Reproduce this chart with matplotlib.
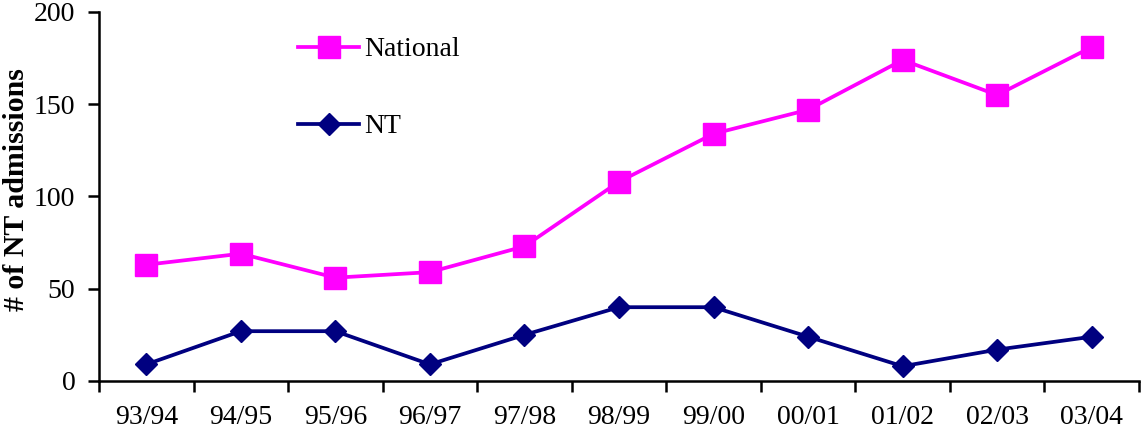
import numpy as np
import matplotlib
matplotlib.use('Agg')
import matplotlib.pyplot as plt
from matplotlib.ticker import FixedLocator, NullFormatter

# data
seasons = ['93/94', '94/95', '95/96', '96/97', '97/98', '98/99',
           '99/00', '00/01', '01/02', '02/03', '03/04']
national = [63, 69, 56, 59, 73, 108, 134, 147, 174, 155, 181]
nt = [9, 27, 27, 9, 25, 40, 40, 24, 8, 17, 24]

national_color = '#FF00FF'
nt_color = '#000080'
font = 'Liberation Serif'
fontsize = 20

plt.rcParams['font.family'] = font
plt.rcParams['axes.linewidth'] = 1.8

fig = plt.figure(figsize=(11.42, 4.45), dpi=100)
ax = fig.add_axes([99 / 1142, 1 - 381 / 445, 1040 / 1142, 369 / 445])

x = np.arange(len(seasons))
ax.plot(x, national, color=national_color, linewidth=2.7, marker='s',
        markersize=15.5, label='National')
ax.plot(x, nt, color=nt_color, linewidth=2.7, marker='D',
        markersize=11.5, label='NT')

ax.set_xlim(-0.5, len(seasons) - 0.5)
ax.set_ylim(0, 200)
ax.set_yticks([0, 50, 100, 150, 200])

# ticks at category boundaries, labels at centres
ax.xaxis.set_major_locator(FixedLocator(np.arange(-0.5, len(seasons), 1.0)))
ax.xaxis.set_major_formatter(NullFormatter())
ax.xaxis.set_minor_locator(FixedLocator(x))
ax.set_xticklabels(seasons, minor=True)
ax.tick_params(axis='x', which='major', direction='out', length=8, width=1.8)
ax.tick_params(axis='x', which='minor', length=0, pad=17, labelsize=fontsize)
ax.tick_params(axis='y', direction='out', length=8, width=1.8, pad=9,
               labelsize=fontsize)

for side in ['top', 'right']:
    ax.spines[side].set_visible(False)

ax.set_ylabel('# of NT admissions', fontsize=21.5, fontweight='bold')
ax.yaxis.set_label_coords(-69 / 1040, 0.52)

leg = ax.legend(loc='upper left', bbox_to_anchor=(298 / 1142, 1 - 37 / 445),
                bbox_transform=fig.transFigure, frameon=False,
                fontsize=fontsize, handlelength=2.2, handletextpad=0.2,
                labelspacing=1.85, borderpad=0, borderaxespad=0)

fig.savefig('out.png', dpi=100)
